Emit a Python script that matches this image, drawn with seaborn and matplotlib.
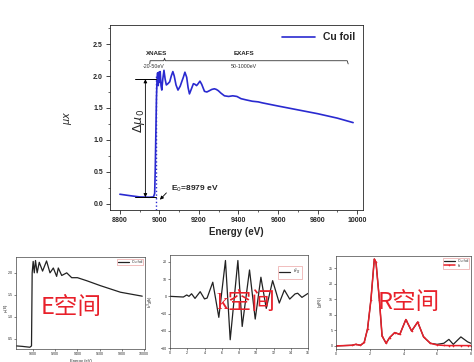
import numpy as np
import pandas as pd
import matplotlib
matplotlib.use("Agg")
import matplotlib.pyplot as plt
from matplotlib.ticker import MultipleLocator
import seaborn as sns

# main XAS spectrum (Cu foil, mu x vs energy)
main_energy = [8800, 8850, 8900, 8950, 8970, 8976, 8979, 8982, 8985, 8988, 8991, 8994,
               8997, 9000, 9004, 9008, 9012, 9017, 9023, 9029, 9035, 9043, 9052, 9060,
               9068, 9075, 9084, 9094, 9105, 9114, 9121, 9129, 9138, 9145, 9152, 9162,
               9172, 9180, 9188, 9196, 9205, 9214, 9228, 9240, 9253, 9265, 9278, 9288,
               9298, 9312, 9329, 9350, 9371, 9392, 9413, 9440, 9470, 9500, 9520, 9560,
               9600, 9700, 9800, 9900, 9980]
main_mu = [0.147, 0.125, 0.105, 0.100, 0.105, 0.160, 0.550, 1.100, 1.650, 1.950, 2.050, 1.850,
           2.060, 1.900, 2.070, 1.850, 1.780, 1.950, 2.090, 1.950, 1.860, 1.880, 1.910, 2.000,
           2.070, 2.000, 1.860, 1.780, 1.840, 1.920, 1.980, 2.060, 1.980, 1.820, 1.720, 1.800,
           1.880, 1.870, 1.850, 1.880, 1.920, 1.870, 1.760, 1.750, 1.770, 1.790, 1.800, 1.790,
           1.770, 1.730, 1.690, 1.680, 1.690, 1.680, 1.645, 1.625, 1.605, 1.595, 1.580, 1.555,
           1.530, 1.470, 1.410, 1.340, 1.270]

# E-space panel
e_energy = [8848, 8900, 8970, 8985, 8991, 9000, 9010, 9021, 9036, 9055, 9085, 9121,
            9152, 9182, 9212, 9227, 9258, 9303, 9348, 9400, 9485, 9606, 9788, 9985]
e_mu = [0.34, 0.33, 0.31, 0.34, 2.00, 2.26, 2.00, 2.28, 2.00, 2.24, 2.04, 2.27,
        2.00, 2.11, 1.92, 2.11, 1.94, 2.00, 1.89, 1.89, 1.82, 1.71, 1.56, 1.47]

# k-space panel (k^3 chi)
k_vals = [0.0, 1.55, 1.94, 2.2, 2.5, 2.9, 3.5, 4.0, 4.3, 4.96, 5.66, 6.43, 6.98, 7.87,
          8.37, 9.22, 9.88, 10.54, 11.16, 11.9, 12.67, 13.26, 13.88, 14.5, 14.8, 15.3, 16.0]
k3chi = [0.0, -0.4, 0.8, 0.0, 1.5, -1.2, 2.7, -1.5, -1.0, 8.2, -12.2, 20.8, -25.2, 20.8,
         -17.5, 15.3, -13.2, 11.1, -7.0, 9.1, -3.9, 3.7, -1.6, 1.4, 1.8, -0.6, 1.7]

# R-space panel
r_vals = [0.0, 0.96, 1.17, 1.45, 1.67, 1.87, 2.07, 2.27, 2.37, 2.57, 2.73, 2.97, 3.18,
          3.48, 3.78, 4.14, 4.48, 4.84, 5.19, 5.59, 5.99, 6.39, 6.69, 6.95, 7.4, 7.8, 8.0]
r_data = [0.0, 0.2, 0.5, 0.2, 1.1, 5.5, 14.9, 28.0, 27.0, 14.9, 3.2, 0.85, 2.7,
          4.3, 3.7, 8.5, 4.8, 7.7, 2.9, 0.85, 0.5, 0.85, 2.1, 0.5, 2.9, 1.3, 0.85]
r_fit = [0.0, 0.2, 0.5, 0.2, 1.1, 5.5, 14.9, 28.0, 27.0, 14.9, 3.2, 0.85, 2.7,
         4.3, 3.7, 8.5, 4.8, 7.7, 2.9, 0.85, 0.3, 0.15, 0.1, 0.1, 0.1, 0.1, 0.1]

sns.set_style("ticks")
plt.rcParams['font.family'] = ['Liberation Sans', 'Noto Sans CJK SC', 'DejaVu Sans']

W, H = 474, 362
fig = plt.figure(figsize=(W / 100, H / 100), dpi=100)


def ax_px(l, t, r, b):
    return fig.add_axes([l / W, 1 - b / H, (r - l) / W, (b - t) / H])


BLUE = '#2a2ad0'
RED = '#e8202a'

# ---------------- main panel ----------------
ax = ax_px(110, 25, 363, 210)
sns.lineplot(x=main_energy, y=main_mu, ax=ax, color=BLUE, lw=1.2, sort=False,
             estimator=None, label='Cu foil')
ax.set_xlim(8750, 10030)
ax.set_ylim(-0.1, 2.8)
ax.xaxis.set_major_locator(MultipleLocator(200))
ax.xaxis.set_minor_locator(MultipleLocator(100))
ax.yaxis.set_major_locator(MultipleLocator(0.5))
ax.yaxis.set_minor_locator(MultipleLocator(0.25))
ax.tick_params(which='major', direction='out', length=3, width=0.6, labelsize=5, pad=2)
ax.tick_params(which='minor', direction='out', length=1.6, width=0.5)
for lab in ax.get_xticklabels() + ax.get_yticklabels():
    lab.set_fontweight('bold')
for s in ax.spines.values():
    s.set_linewidth(0.6)
ax.set_xlabel('Energy (eV)', fontsize=7, fontweight='bold', labelpad=2)
ax.set_ylabel(r'$\mu x$', fontsize=7, labelpad=14)
leg = ax.legend(loc='upper right', frameon=False, handlelength=3.2,
                prop={'weight': 'bold', 'size': 7.5}, borderaxespad=0.3)

# edge annotations
ax.plot([8985, 8985], [-0.1, 2.0], ls=':', color=BLUE, lw=1.0)
ax.plot([8875, 8985], [1.95, 1.95], color='black', lw=0.7)
ax.plot([8875, 8985], [0.10, 0.10], color='black', lw=0.7)
ax.annotate('', xy=(8929, 1.95), xytext=(8929, 0.10),
            arrowprops=dict(arrowstyle='<|-|>', color='black', lw=0.6,
                            mutation_scale=5, shrinkA=0, shrinkB=0))
ax.text(8898, 1.30, r'$\Delta\mu_{\,0}$', rotation=90, fontsize=9,
        ha='center', va='center')
ax.text(9058, 0.24, r'E$_0$=8979 eV', fontsize=6, fontweight='bold',
        ha='left', va='center')
ax.annotate('', xy=(8993, 0.03), xytext=(9045, 0.2),
            arrowprops=dict(arrowstyle='-|>', color='black', lw=0.6,
                            mutation_scale=5))

# XANES / EXAFS brackets
yb = 2.24
ax.plot([8951, 8953, 9022, 9026, 9030, 9950, 9955],
        [yb - 0.05, yb, yb, yb + 0.04, yb, yb, yb - 0.05], color='#333333', lw=0.6)
ax.text(8988, 2.36, 'XNAES', fontsize=4.5, fontweight='bold', ha='center', va='center')
ax.text(9426, 2.36, 'EXAFS', fontsize=4.5, fontweight='bold', ha='center', va='center')
ax.text(8971, 2.15, '-20-50eV', fontsize=3.8, ha='center', va='center', color='#333333')
ax.text(9429, 2.15, '50-1000eV', fontsize=3.8, ha='center', va='center', color='#333333')


def small_style(a):
    a.tick_params(which='major', direction='out', length=1.5, width=0.4,
                  labelsize=2.6, pad=1)
    for s in a.spines.values():
        s.set_linewidth(0.5)
        s.set_color('#444444')


def small_legend(a, loc, anchor):
    lg = a.legend(loc=loc, bbox_to_anchor=anchor, frameon=True, fancybox=False,
                  prop={'size': 2.6}, handlelength=3, borderpad=0.3,
                  labelspacing=0.2, edgecolor='#e07070')
    lg.get_frame().set_linewidth(0.4)


# ---------------- E space ----------------
a1 = ax_px(16, 257, 145, 349)
sns.lineplot(x=e_energy, y=e_mu, ax=a1, color='#222222', lw=0.9, sort=False,
             estimator=None, label='Cu foil')
a1.set_xlim(8845, 10010)
a1.set_ylim(0.27, 2.36)
a1.xaxis.set_major_locator(MultipleLocator(200))
a1.yaxis.set_major_locator(MultipleLocator(0.5))
small_style(a1)
a1.set_ylabel(r'$\mu$(E)', fontsize=3)
a1.yaxis.set_label_coords(-0.045, 0.45)
a1.set_xlabel('Energy (eV)', fontsize=3, labelpad=2)
small_legend(a1, 'upper right', (1.0, 1.0))
a1.text(0.43, 0.45, 'E空间', transform=a1.transAxes, fontsize=17, color=RED,
        ha='center', va='center', family=['Noto Sans CJK SC'])

# ---------------- k space ----------------
a2 = ax_px(170, 255, 308, 348)
sns.lineplot(x=k_vals, y=k3chi, ax=a2, color='#222222', lw=0.9, sort=False,
             estimator=None, label=r'k$^3\chi$')
a2.set_xlim(0, 16)
a2.set_ylim(-30, 24)
a2.xaxis.set_major_locator(MultipleLocator(2))
a2.yaxis.set_major_locator(MultipleLocator(10))
small_style(a2)
a2.set_ylabel(r'k$^3\chi$(k)', fontsize=3, labelpad=3)
small_legend(a2, 'upper right', (0.97, 0.9))
a2.text(0.55, 0.48, 'k空间', transform=a2.transAxes, fontsize=17, color=RED,
        ha='center', va='center', family=['Liberation Serif', 'Noto Sans CJK SC'])

# ---------------- R space ----------------
a3 = ax_px(336, 256, 471, 349)
sns.lineplot(x=r_vals, y=r_data, ax=a3, color='#222222', lw=0.9, sort=False,
             estimator=None, label='Cu foil')
sns.lineplot(x=r_vals, y=r_fit, ax=a3, color=RED, lw=1.1, sort=False,
             estimator=None, marker='o', markersize=1.2, markeredgewidth=0,
             label='fit')
a3.set_xlim(0, 8)
a3.set_ylim(-1, 29)
a3.xaxis.set_major_locator(MultipleLocator(2))
a3.yaxis.set_major_locator(MultipleLocator(5))
small_style(a3)
a3.set_ylabel(r'|$\chi$(R)|', fontsize=3, labelpad=3)
small_legend(a3, 'upper right', (1.0, 1.0))
a3.text(0.54, 0.5, 'R空间', transform=a3.transAxes, fontsize=17, color=RED,
        ha='center', va='center', family=['Noto Sans CJK SC'])

fig.savefig('out.png', dpi=100)
